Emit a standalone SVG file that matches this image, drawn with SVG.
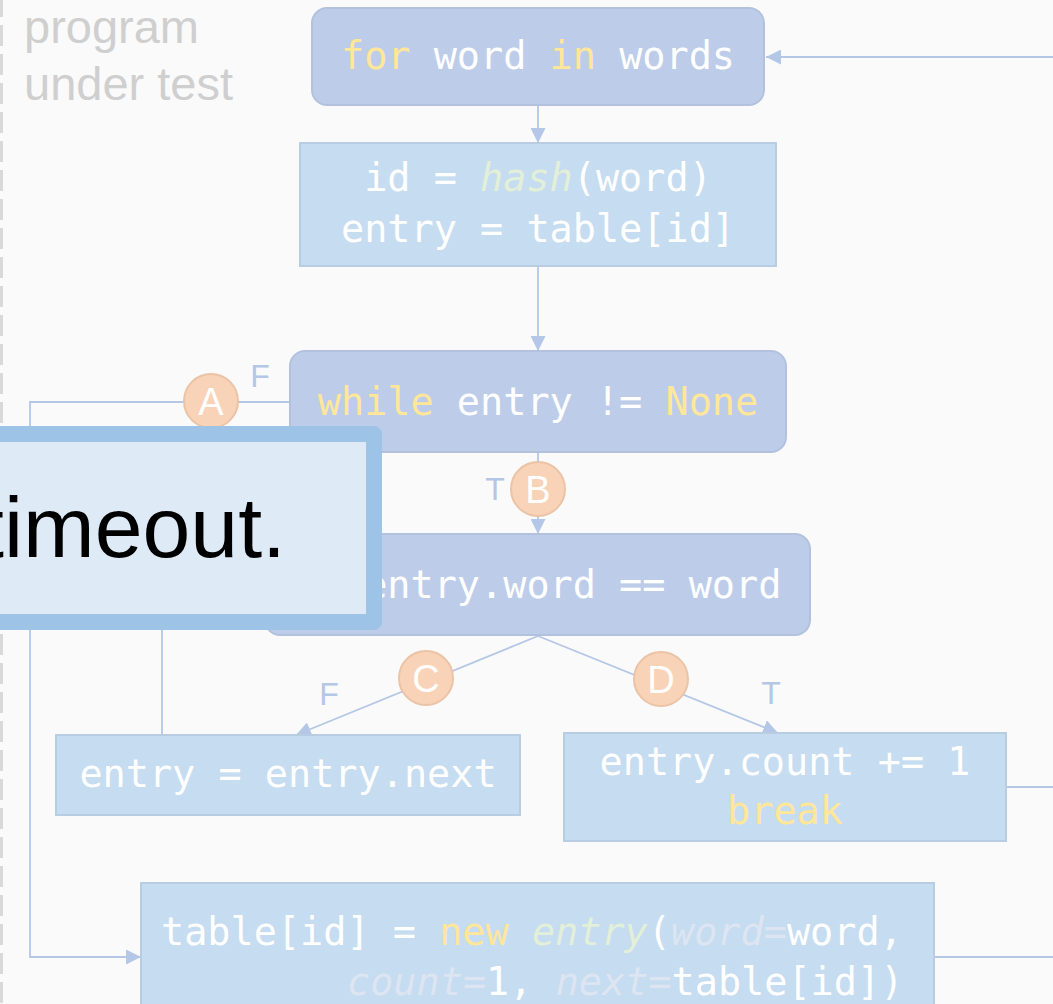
<svg xmlns="http://www.w3.org/2000/svg" width="1053" height="1004" viewBox="0 0 1053 1004">
<style>
.code{font-family:"DejaVu Sans Mono",monospace;font-size:38.5px;fill:#ffffff}
.kw{fill:#ffe699}
.fn{fill:#e2efd9;font-style:italic}
.pa{fill:#dde5f2;font-style:italic}
.rnode{fill:#bdcde9;stroke:#b2c2de;stroke-width:2}
.snode{fill:#c6dcf0;stroke:#b9cde2;stroke-width:2}
.conn{fill:none;stroke:#b4c7e7;stroke-width:1.8}
.badge circle{fill:#f8d3b8;stroke:#ebc3a6;stroke-width:2}
.badge text{font-family:"Liberation Sans",Arial,sans-serif;font-size:38px;fill:#ffffff;text-anchor:middle}
.lbl{font-family:"Liberation Sans",Arial,sans-serif;font-size:32px;fill:#b4c7e7;text-anchor:middle}
</style>
<defs>
<marker id="arr" markerUnits="userSpaceOnUse" markerWidth="15" markerHeight="15" refX="15" refY="7.5" orient="auto">
<path d="M0,0 L15,7.5 L0,15 z" fill="#b4c7e7"/>
</marker>
</defs>
<rect x="0" y="0" width="1053" height="1004" fill="#fafafa"/>
<line x1="1.5" y1="0" x2="1.5" y2="1004" stroke="#d9d9d9" stroke-width="3" stroke-dasharray="21 8" stroke-dashoffset="4"/>
<g id="title">
<text x="24" y="43" font-family="Liberation Sans, Arial, sans-serif" font-size="47" fill="#cfcfcf">program</text>
<text x="24" y="100" font-family="Liberation Sans, Arial, sans-serif" font-size="47" fill="#cfcfcf">under test</text>
</g>
<g id="connectors">
<path class="conn" d="M1053,57 L766,57" marker-end="url(#arr)"/>
<path class="conn" d="M538,106 L538,143" marker-end="url(#arr)"/>
<path class="conn" d="M538,267 L538,351" marker-end="url(#arr)"/>
<path class="conn" d="M290,402 L30,402 L30,957 L141,957" marker-end="url(#arr)"/>
<path class="conn" d="M538,453 L538,534" marker-end="url(#arr)"/>
<path class="conn" d="M538,636 L296,735" marker-end="url(#arr)"/>
<path class="conn" d="M538,636 L778,733" marker-end="url(#arr)"/>
<path class="conn" d="M162,735 L162,440 L290,440" marker-end="url(#arr)"/>
<path class="conn" d="M1007,787 L1053,787"/>
<path class="conn" d="M934,957 L1053,957"/>
</g>
<g id="n-for">
<rect class="rnode" x="312" y="8" width="452" height="97" rx="15"/>
<text class="code" x="538" y="69" text-anchor="middle"><tspan class="kw">for</tspan> word <tspan class="kw">in</tspan> words</text>
</g>
<g id="n-hash">
<rect class="snode" x="300" y="143" width="476" height="123"/>
<text class="code" x="538" y="191" text-anchor="middle">id = <tspan class="fn">hash</tspan>(word)</text>
<text class="code" x="538" y="242" text-anchor="middle">entry = table[id]</text>
</g>
<g id="n-while">
<rect class="rnode" x="290" y="351" width="496" height="101" rx="15"/>
<text class="code" x="538" y="415" text-anchor="middle"><tspan class="kw">while</tspan> entry != <tspan class="kw">None</tspan></text>
</g>
<g id="n-if">
<rect class="rnode" x="265" y="534" width="545" height="101" rx="15"/>
<text class="code" x="538" y="598" text-anchor="middle"><tspan class="kw">if</tspan> entry.word == word</text>
</g>
<g id="n-next">
<rect class="snode" x="56" y="735" width="464" height="80"/>
<text class="code" x="288" y="787" text-anchor="middle">entry = entry.next</text>
</g>
<g id="n-count">
<rect class="snode" x="564" y="733" width="442" height="108"/>
<text class="code" x="785" y="775" text-anchor="middle">entry.count += 1</text>
<text class="code" x="785" y="824" text-anchor="middle"><tspan class="kw">break</tspan></text>
</g>
<g id="n-new">
<rect class="snode" x="141" y="883" width="793" height="140"/>
<text class="code" x="161" y="945">table[id] = <tspan class="kw">new</tspan> <tspan class="fn">entry</tspan>(<tspan class="pa">word=</tspan>word,</text>
<text class="code" x="347" y="995"><tspan class="pa">count=</tspan>1, <tspan class="pa">next=</tspan>table[id])</text>
</g>
<g id="badge-A" class="badge"><circle cx="211" cy="401" r="27"/><text x="211" y="415">A</text></g>
<g id="badge-B" class="badge"><circle cx="538" cy="489" r="27"/><text x="538" y="503">B</text></g>
<g id="badge-C" class="badge"><circle cx="426" cy="678" r="27"/><text x="426" y="692">C</text></g>
<g id="badge-D" class="badge"><circle cx="661" cy="679" r="27"/><text x="661" y="693">D</text></g>
<g id="labels">
<text class="lbl" x="260" y="387">F</text>
<text class="lbl" x="495" y="500">T</text>
<text class="lbl" x="329" y="705">F</text>
<text class="lbl" x="771" y="704">T</text>
</g>
<g id="callout">
<rect x="-40" y="434" width="414" height="188" fill="#deebf7" stroke="#9dc3e6" stroke-width="16" stroke-linejoin="round"/>
<text x="-20" y="557" font-family="Liberation Sans, Arial, sans-serif" font-size="86" fill="#000000">timeout.</text>
</g>
</svg>
